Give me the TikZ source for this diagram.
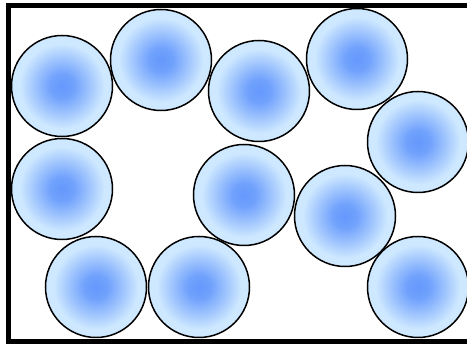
\documentclass[tikz,border=0pt]{standalone}
\definecolor{ballcore}{RGB}{100,152,252}
\definecolor{ballrim}{RGB}{206,232,255}
\pgfdeclareradialshading{ballglow}{\pgfpoint{0bp}{0bp}}{%
 color(0bp)=(ballcore); color(6bp)=(ballcore!88!ballrim); color(21bp)=(ballrim); color(50bp)=(ballrim)}
\begin{document}
\begin{tikzpicture}[x=1pt,y=-1pt,
 ball/.style={circle,draw,line width=1.5pt,minimum size=101pt,inner sep=0pt,shading=ballglow},
 frame/.style={line width=5pt}]
\useasboundingbox (0,0) rectangle (467,344);
\clip (0,0) rectangle (467,344);
\draw[frame] (8,5.5) rectangle (480,341.5);
\foreach \i/\x/\y in {1/62/86, 2/161/60, 3/259/91, 4/357/59, 5/418/142,
 6/62/189, 7/244/195, 8/345/216, 9/96/287, 10/199/287, 11/418/287}
 \node[ball] (b\i) at (\x,\y) {};
\end{tikzpicture}
\end{document}
